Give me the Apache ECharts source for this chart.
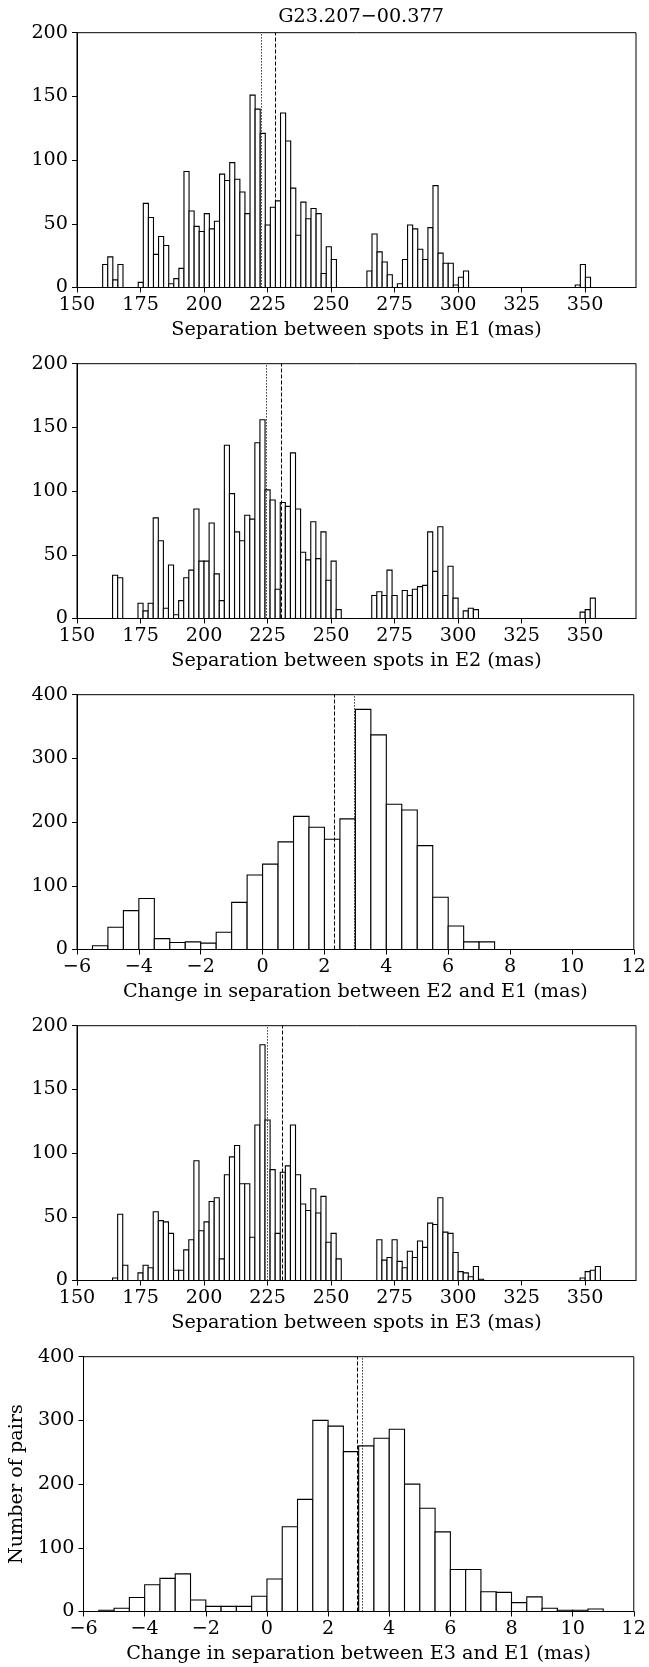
<!DOCTYPE html>
<html><head><meta charset="utf-8">
<script src="https://cdn.jsdelivr.net/npm/echarts@6/dist/echarts.min.js"></script>
<style>html,body{margin:0;padding:0;background:#fff}#c{width:649px;height:1667px}</style>
</head><body><div id="c"></div>
<script>
// ---- data ----
const title = 'G23.207\u221200.377';
const xNames = [
  'Separation between spots in E1 (mas)',
  'Separation between spots in E2 (mas)',
  'Change in separation between E2 and E1 (mas)',
  'Separation between spots in E3 (mas)',
  'Change in separation between E3 and E1 (mas)'
];
const yName = 'Number of pairs';

// histogram bin definitions (left edge of first bin, bin width)
const e1Bins = {start: 160.1, width: 2};
const e1Counts = [18,24,6,18,0,0,0,4,66,55,26,40,33,3,7,15,91,60,48,44,58,46,52,89,84,98,85,75,58,151,140,121,49,63,68,137,115,78,41,67,54,62,58,11,32,22,
  0,0,0,0,0,0,
  13,42,28,20,10,0,3,22,49,46,30,22,47,80,27,19,19,2,8,13,
  0,0,0,0,0,0,0,0,0,0,0,0,0,0,0,0,0,0,0,0,0,
  2,18,8];

const e2Bins = {start: 164.0, width: 2};
const e2Counts = [34,32,0,0,0,
  12,6,12,79,61,8,42,3,14,32,38,86,45,45,75,35,14,136,98,68,61,81,78,138,156,101,93,23,91,88,130,86,52,46,76,47,68,30,45,7,
  0,0,0,0,0,0,
  18,21,18,38,18,0,22,18,23,25,26,68,37,72,18,41,16,0,6,8,7,
  0,0,0,0,0,0,0,0,0,0,0,0,0,0,0,0,0,0,0,0,
  5,7,16];

const d21Bins = {start: -5.5, width: 0.5};
const d21Counts = [6,35,61,80,17,11,12,10,27,74,117,134,169,209,192,173,205,377,337,228,219,163,82,37,12,12];

const e3Bins = {start: 164.0, width: 2};
const e3Counts = [2,52,12,0,0,
  6,12,10,54,47,46,37,8,8,24,32,94,39,46,62,65,17,83,97,106,76,76,34,122,185,126,87,37,85,90,122,83,60,55,72,53,66,30,37,17,
  0,0,0,0,0,0,0,
  32,16,18,32,15,10,23,18,31,26,45,44,65,38,37,22,7,6,3,11,1,
  0,0,0,0,0,0,0,0,0,0,0,0,0,0,0,0,0,0,0,
  2,7,8,11];

const d31Bins = {start: -5.5, width: 0.5};
const d31Counts = [2,5,22,42,52,59,18,8,8,8,24,51,133,176,300,291,251,260,272,286,200,162,125,66,66,31,30,14,23,5,2,2,4];

// vertical reference lines
const e1Lines = {dotted: 222.5, dashed: 228.0};
const e2Lines = {dotted: 224.35, dashed: 230.25};
const d21Lines = {dotted: 2.97, dashed: 2.31};
const e3Lines = {dotted: 224.87, dashed: 230.9};
const d31Lines = {dotted: 3.11, dashed: 2.96};

// axes
const sepRange = {min: 150, max: 370};
const sepTicks = [150, 175, 200, 225, 250, 275, 300, 325, 350];
const diffRange = {min: -6, max: 12};
const diffTicks = [-6, -4, -2, 0, 2, 4, 6, 8, 10, 12];
const count200 = {min: 0, max: 200, interval: 50};
const count400 = {min: 0, max: 400, interval: 100};

// ---- build ----
const panels = [
  {bins: e1Bins, counts: e1Counts, lines: e1Lines, xr: sepRange, xt: sepTicks, y: count200},
  {bins: e2Bins, counts: e2Counts, lines: e2Lines, xr: sepRange, xt: sepTicks, y: count200},
  {bins: d21Bins, counts: d21Counts, lines: d21Lines, xr: diffRange, xt: diffTicks, y: count400},
  {bins: e3Bins, counts: e3Counts, lines: e3Lines, xr: sepRange, xt: sepTicks, y: count200},
  {bins: d31Bins, counts: d31Counts, lines: d31Lines, xr: diffRange, xt: diffTicks, y: count400}
];

const FONT = 'DejaVu Serif';
const FS = 19.2;
const fmt = v => String(v).replace('-', '\u2212');

const grids = [], xAxes = [], yAxes = [], series = [];
panels.forEach((p, i) => {
  grids.push({left: 77, right: 13, top: 32.7 + 331 * i, height: 254.8, show: true,
    borderColor: '#000', borderWidth: 1, backgroundColor: 'transparent', containLabel: false});
  xAxes.push({type: 'value', gridIndex: i, min: p.xr.min, max: p.xr.max,
    name: xNames[i], nameLocation: 'middle', nameGap: 33,
    nameTextStyle: {fontFamily: FONT, fontSize: FS, color: '#000'},
    axisLine: {show: true, onZero: false, lineStyle: {color: '#000', width: 1}},
    axisTick: {show: true, length: 5, customValues: p.xt, lineStyle: {color: '#000', width: 1}},
    axisLabel: {fontFamily: FONT, fontSize: FS, color: '#000', margin: 8, formatter: fmt, customValues: p.xt},
    splitLine: {show: false}});
  yAxes.push({type: 'value', gridIndex: i, min: p.y.min, max: p.y.max, interval: p.y.interval,
    name: i === 4 ? yName : '', nameLocation: 'middle', nameGap: 51,
    nameTextStyle: {fontFamily: FONT, fontSize: FS, color: '#000'},
    axisLine: {show: true, onZero: false, lineStyle: {color: '#000', width: 1}},
    axisTick: {show: true, length: 5, lineStyle: {color: '#000', width: 1}},
    axisLabel: {fontFamily: FONT, fontSize: FS, color: '#000', margin: 9},
    splitLine: {show: false}});
  const data = [];
  p.counts.forEach((c, k) => {
    if (c > 0) {
      const x0 = p.bins.start + k * p.bins.width;
      data.push([x0, x0 + p.bins.width, c]);
    }
  });
  series.push({type: 'custom', xAxisIndex: i, yAxisIndex: i, data: data, silent: true,
    renderItem: function (params, api) {
      const a = api.coord([api.value(0), api.value(2)]);
      const b = api.coord([api.value(1), 0]);
      return {type: 'rect', shape: {x: a[0], y: a[1], width: b[0] - a[0], height: b[1] - a[1]},
        style: {fill: '#fff', stroke: '#000', lineWidth: 1.1}};
    },
    encode: {x: [0, 1], y: 2},
    markLine: {silent: true, symbol: ['none', 'none'], label: {show: false}, animation: false,
      data: [
        {xAxis: p.lines.dotted, lineStyle: {color: '#000', width: 1, type: [1.2, 1.8]}},
        {xAxis: p.lines.dashed, lineStyle: {color: '#000', width: 1, type: [4, 2]}}
      ]}
  });
});

const chart = echarts.init(document.getElementById('c'), null, {renderer: 'canvas', width: 649, height: 1667});
chart.setOption({
  animation: false,
  backgroundColor: '#fff',
  title: {text: title, left: 356, top: 3, textAlign: 'center',
    textStyle: {fontFamily: FONT, fontSize: FS, fontWeight: 'normal', color: '#000'}},
  grid: grids, xAxis: xAxes, yAxis: yAxes, series: series
});
</script>
</body></html>
